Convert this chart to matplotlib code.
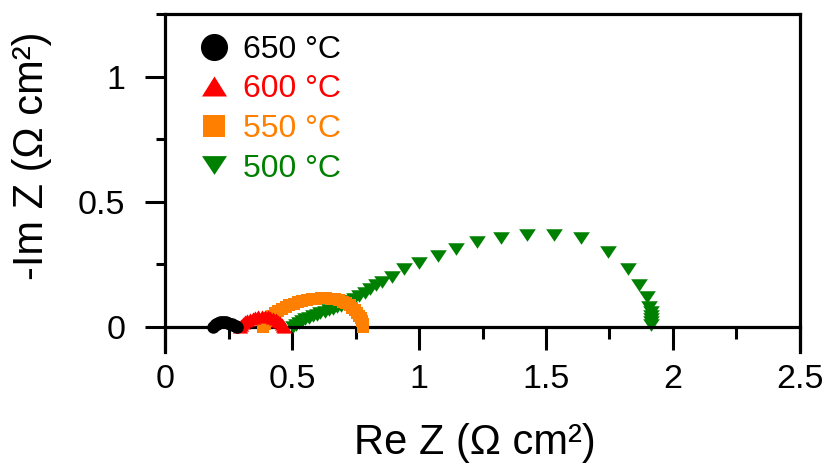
import matplotlib
matplotlib.use('Agg')
import matplotlib.pyplot as plt
from matplotlib.lines import Line2D
from matplotlib.path import Path
from matplotlib.ticker import MultipleLocator

plt.rcParams['font.family'] = ['Liberation Sans', 'DejaVu Sans']

# Nyquist data, Re Z / -Im Z in Ohm cm2
re_650 = [0.19, 0.195, 0.2, 0.205, 0.21, 0.217, 0.225, 0.233, 0.24, 0.248, 0.255, 0.262, 0.268, 0.274, 0.279, 0.282]
im_650 = [0.0, 0.006, 0.01, 0.013, 0.016, 0.018, 0.019, 0.019, 0.018, 0.016, 0.013, 0.01, 0.007, 0.004, 0.002, 0.0]

re_600 = [0.295, 0.3, 0.307, 0.315, 0.324, 0.334, 0.345, 0.356, 0.368, 0.38, 0.392, 0.404, 0.415, 0.426,
          0.436, 0.445, 0.453, 0.46, 0.465, 0.468]
im_600 = [0.0, 0.008, 0.015, 0.022, 0.028, 0.033, 0.037, 0.04, 0.042, 0.043, 0.043, 0.042, 0.04, 0.036,
          0.031, 0.025, 0.018, 0.011, 0.005, 0.0]

re_550 = [0.385, 0.392, 0.4, 0.41, 0.42, 0.432, 0.445, 0.46, 0.475, 0.49, 0.506, 0.522, 0.54, 0.558, 0.577,
          0.596, 0.615, 0.634, 0.652, 0.669, 0.685, 0.7, 0.714, 0.727, 0.738, 0.748, 0.757, 0.764, 0.77,
          0.775, 0.778, 0.78, 0.781]
im_550 = [0.0, 0.012, 0.023, 0.034, 0.044, 0.054, 0.063, 0.072, 0.08, 0.087, 0.093, 0.099, 0.104, 0.108, 0.111,
          0.113, 0.114, 0.114, 0.113, 0.11, 0.106, 0.101, 0.094, 0.086, 0.077, 0.067, 0.056, 0.045, 0.034,
          0.023, 0.013, 0.005, 0.0]

re_500 = [0.505, 0.515, 0.527, 0.54, 0.553, 0.567, 0.582, 0.597, 0.612, 0.628, 0.644, 0.66, 0.676, 0.692,
          0.709, 0.727, 0.745, 0.765, 0.786, 0.808, 0.83, 0.853, 0.893, 0.941, 1.001, 1.076, 1.146, 1.227,
          1.322, 1.424, 1.531, 1.638, 1.745, 1.822, 1.867, 1.896, 1.907, 1.912, 1.913, 1.914, 1.914, 1.914]
im_500 = [0.0, 0.008, 0.016, 0.023, 0.03, 0.036, 0.042, 0.048, 0.054, 0.06, 0.066, 0.072, 0.078, 0.085,
          0.093, 0.102, 0.112, 0.124, 0.137, 0.151, 0.166, 0.181, 0.201, 0.231, 0.257, 0.284, 0.311, 0.341,
          0.357, 0.368, 0.368, 0.355, 0.301, 0.231, 0.168, 0.121, 0.081, 0.06, 0.045, 0.03, 0.018, 0.008]

labels = ['650 °C', '600 °C', '550 °C', '500 °C']
colors = ['black', '#ff0000', '#ff8000', '#008000']

xticks = [0, 0.5, 1, 1.5, 2, 2.5]
xtick_labels = ['0', '0.5', '1', '1.5', '2', '2.5']
yticks = [0, 0.5, 1]
ytick_labels = ['0', '0.5', '1']

# flattened down / up triangles
tri_down = Path([(-1, 0.75), (1, 0.75), (0, -0.75), (-1, 0.75)], closed=True)
tri_up = Path([(-1, -0.8), (1, -0.8), (0, 0.8), (-1, -0.8)], closed=True)

fig = plt.figure(figsize=(8.26, 4.70), dpi=100)
ax = fig.add_axes([0.1998, 0.2511, 0.7687, 0.7191])

ax.plot(re_500, im_500, ls='none', marker=tri_down, ms=12, color=colors[3], mew=0, zorder=2)
ax.plot(re_550, im_550, ls='none', marker='s', ms=8, color=colors[2], mew=0, zorder=3)
ax.plot(re_600, im_600, ls='none', marker=tri_up, ms=11, color=colors[1], mew=0, zorder=4)
ax.plot(re_650, im_650, ls='none', marker='o', ms=9, color=colors[0], mew=0, zorder=5)

ax.set_xlim(0, 2.5)
ax.set_ylim(-0.1, 1.25)

ax.spines['bottom'].set_position(('data', 0))
for s in ax.spines.values():
    s.set_linewidth(2.3)

ax.set_xticks(xticks)
ax.set_xticklabels(xtick_labels)
ax.set_yticks(yticks)
ax.set_yticklabels(ytick_labels)
ax.xaxis.set_minor_locator(MultipleLocator(0.25))
ax.yaxis.set_minor_locator(MultipleLocator(0.25))
ax.tick_params(axis='x', which='major', direction='out', length=16.5, width=2.2, labelsize=24.5, pad=10)
ax.tick_params(axis='x', which='minor', direction='out', length=8.6, width=2.2)
ax.tick_params(axis='y', which='major', direction='out', length=14.4, width=2.2, labelsize=24.5, pad=14)
ax.tick_params(axis='y', which='minor', direction='out', length=6.5, width=2.2)

ax.set_xlabel('Re Z (Ω cm²)', fontsize=30)
ax.set_ylabel('-Im Z (Ω cm²)', fontsize=30)
ax.xaxis.set_label_coords(0.488, -0.21)
ax.yaxis.set_label_coords(-0.178, 0.58)

handles = [
    Line2D([], [], ls='none', marker='o', ms=19.5, color=colors[0], mew=0),
    Line2D([], [], ls='none', marker=tri_up, ms=18, color=colors[1], mew=0),
    Line2D([], [], ls='none', marker='s', ms=16, color=colors[2], mew=0),
    Line2D([], [], ls='none', marker=tri_down, ms=18, color=colors[3], mew=0),
]
ax.legend(handles, labels, loc='upper left', bbox_to_anchor=(0.02, 1.0), frameon=False,
          fontsize=23, labelcolor=colors, handlelength=1.0, handletextpad=0.4,
          labelspacing=0.3, borderpad=0.3, borderaxespad=0.35)

fig.savefig('out.png', dpi=100)
